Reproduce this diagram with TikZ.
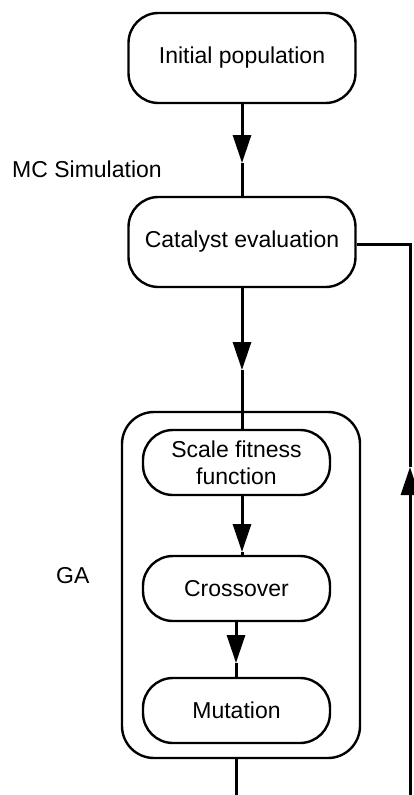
\documentclass[tikz,border=0pt]{standalone}
\usepackage{fontspec}
\setmainfont{Liberation Sans}
\usetikzlibrary{arrows.meta}
\begin{document}
\begin{tikzpicture}[x=1pt,y=-1pt,
  txt/.style={font=\fontsize{23}{27}\selectfont},
  box/.style={txt, draw, line width=2.4pt, rounded corners=30pt, minimum width=227pt, minimum height=90pt, inner sep=0pt, align=center},
  pill/.style={txt, draw, line width=2.4pt, rounded corners=30pt, minimum width=187pt, minimum height=65pt, inner sep=0pt, align=center},
  group/.style={draw, line width=2.4pt, rounded corners=32pt, minimum width=238pt, minimum height=346pt, inner sep=0pt},
  flow/.style={line width=3pt},
  tipline/.style={line width=3pt, -{Triangle[length=28pt,width=18pt]}},
  lbl/.style={txt, anchor=base west, inner sep=0pt}
]
\useasboundingbox (0,0) rectangle (413,795);

\node[box] (init) at (242,58) {Initial population};
\node[box] (cat) at (242,242) {Catalyst evaluation};
\node[group] (ga) at (241,585) {};
\node[pill] (scale) at (236.5,462.5) {Scale fitness\\function};
\node[pill] (cross) at (236.5,588.5) {Crossover};
\node[pill] (mut) at (236.5,710.5) {Mutation};

\node[lbl] (mc) at (12,177) {MC Simulation};
\node[lbl] (galbl) at (56,583) {GA};

\coordinate (m1) at (242,163);
\draw[tipline] (init.south) -- (m1);
\draw[flow] (m1) -- (cat.north);

\coordinate (m2) at (242,370);
\draw[tipline] (cat.south) -- (m2);
\draw[flow] (m2) -- (m2 |- scale.north);

\coordinate (m3) at (242,552);
\draw[tipline] (m3 |- scale.south) -- (m3);
\draw[flow] (m3) -- (m3 |- cross.north);

\coordinate (m4) at (236,663);
\draw[tipline] (m4 |- cross.south) -- (m4);
\draw[flow] (m4) -- (m4 |- mut.north);

\coordinate (out) at (236,795);
\draw[flow] (out |- ga.south) -- (out);

\coordinate (back) at (410,795);
\coordinate (m5) at (410,467);
\coordinate (corner) at (410,244);
\draw[tipline] (back) -- (m5);
\draw[flow] (m5) -- (corner) -- (cat.east |- corner);
\end{tikzpicture}
\end{document}
